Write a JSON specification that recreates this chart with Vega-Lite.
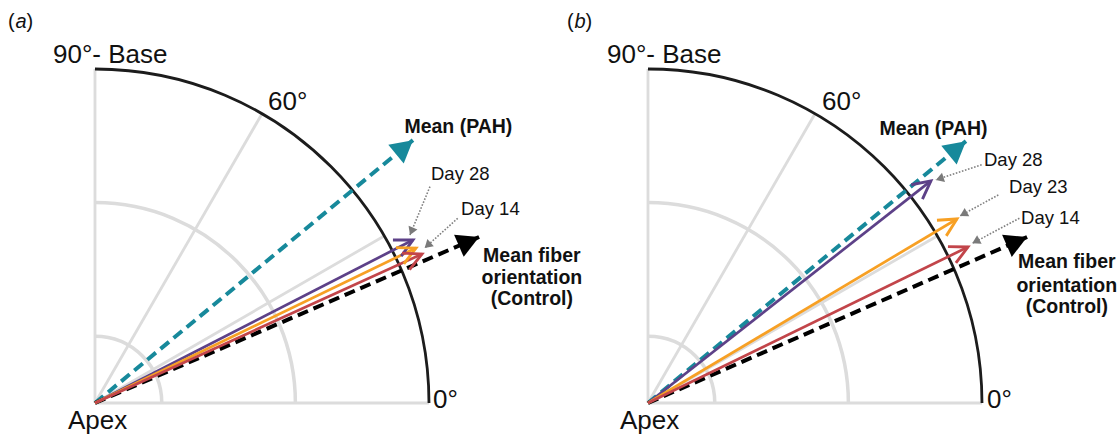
{
  "$schema": "https://vega.github.io/schema/vega-lite/v6.json",
  "padding": 0,
  "background": "white",
  "config": {"view": {"stroke": null}, "font": "Liberation Sans"},
  "data": {"values": [
    {"panel": "a", "kind": "ring", "x0": 0, "y0": 0, "r": 0.2},
    {"panel": "a", "kind": "ring", "x0": 0, "y0": 0, "r": 0.6},
    {"panel": "a", "kind": "rim", "x0": 0, "y0": 0, "r": 1.0},
    {"panel": "a", "kind": "spoke", "x0": 0, "y0": 0, "x": 1.0, "y": 0.0},
    {"panel": "a", "kind": "spoke", "x0": 0, "y0": 0, "x": 0.866, "y": 0.5},
    {"panel": "a", "kind": "spoke", "x0": 0, "y0": 0, "x": 0.5, "y": 0.866},
    {"panel": "a", "kind": "spoke", "x0": 0, "y0": 0, "x": 0.0, "y": 1.0},
    {"panel": "a", "kind": "arrow", "series": "pah", "x0": 0, "y0": 0, "x": 0.952, "y": 0.787, "deg": 39.6},
    {"panel": "a", "kind": "arrow", "series": "control", "x0": 0, "y0": 0, "x": 1.15, "y": 0.497, "deg": 23.4},
    {"panel": "a", "kind": "arrow", "series": "d28", "x0": 0, "y0": 0, "x": 0.952, "y": 0.488, "deg": 27.1},
    {"panel": "a", "kind": "arrow", "series": "d23", "x0": 0, "y0": 0, "x": 0.961, "y": 0.464, "deg": 25.8},
    {"panel": "a", "kind": "arrow", "series": "d14", "x0": 0, "y0": 0, "x": 0.979, "y": 0.446, "deg": 24.5},
    {"panel": "a", "kind": "leader", "x0": 1.003, "y0": 0.648, "x": 0.943, "y": 0.503, "deg": -112.5},
    {"panel": "a", "kind": "leader", "x0": 1.086, "y0": 0.553, "x": 0.987, "y": 0.464, "deg": -138},
    {"panel": "a", "kind": "axis", "label": "90°- Base", "x": -0.1257, "y": 1.018},
    {"panel": "a", "kind": "axis", "label": "60°", "x": 0.518, "y": 0.877},
    {"panel": "a", "kind": "axis", "label": "0°", "x": 1.012, "y": -0.015},
    {"panel": "a", "kind": "axis", "label": "Apex", "x": -0.081, "y": -0.078},
    {"panel": "a", "kind": "day", "label": "Day 28", "x": 1.006, "y": 0.668},
    {"panel": "a", "kind": "day", "label": "Day 14", "x": 1.096, "y": 0.563},
    {"panel": "a", "kind": "bold", "label": "Mean (PAH)", "x": 1.088, "y": 0.808},
    {"panel": "a", "kind": "bold", "label": "Mean fiber", "x": 1.308, "y": 0.422},
    {"panel": "a", "kind": "bold", "label": "orientation", "x": 1.308, "y": 0.356},
    {"panel": "a", "kind": "bold", "label": "(Control)", "x": 1.308, "y": 0.293},
    {"panel": "a", "kind": "tag", "label": "(", "x": -0.2605, "y": 1.1228},
    {"panel": "a", "kind": "tagi", "label": "a", "x": -0.238, "y": 1.1228},
    {"panel": "a", "kind": "tag", "label": ")", "x": -0.2051, "y": 1.1228},

    {"panel": "b", "kind": "ring", "x0": 0, "y0": 0, "r": 0.2},
    {"panel": "b", "kind": "ring", "x0": 0, "y0": 0, "r": 0.6},
    {"panel": "b", "kind": "rim", "x0": 0, "y0": 0, "r": 1.0},
    {"panel": "b", "kind": "spoke", "x0": 0, "y0": 0, "x": 1.0, "y": 0.0},
    {"panel": "b", "kind": "spoke", "x0": 0, "y0": 0, "x": 0.866, "y": 0.5},
    {"panel": "b", "kind": "spoke", "x0": 0, "y0": 0, "x": 0.5, "y": 0.866},
    {"panel": "b", "kind": "spoke", "x0": 0, "y0": 0, "x": 0.0, "y": 1.0},
    {"panel": "b", "kind": "arrow", "series": "pah", "x0": 0, "y0": 0, "x": 0.952, "y": 0.784, "deg": 39.5},
    {"panel": "b", "kind": "arrow", "series": "control", "x0": 0, "y0": 0, "x": 1.135, "y": 0.497, "deg": 23.6},
    {"panel": "b", "kind": "arrow", "series": "d28", "x0": 0, "y0": 0, "x": 0.847, "y": 0.665, "deg": 38.1},
    {"panel": "b", "kind": "arrow", "series": "d23", "x0": 0, "y0": 0, "x": 0.925, "y": 0.551, "deg": 30.8},
    {"panel": "b", "kind": "arrow", "series": "d14", "x0": 0, "y0": 0, "x": 0.958, "y": 0.467, "deg": 26.0},
    {"panel": "b", "kind": "leader", "x0": 0.999, "y0": 0.713, "x": 0.862, "y": 0.668, "deg": -161.8},
    {"panel": "b", "kind": "leader", "x0": 1.049, "y0": 0.623, "x": 0.934, "y": 0.56, "deg": -151.3},
    {"panel": "b", "kind": "leader", "x0": 1.112, "y0": 0.553, "x": 0.971, "y": 0.478, "deg": -152},
    {"panel": "b", "kind": "axis", "label": "90°- Base", "x": -0.1228, "y": 1.018},
    {"panel": "b", "kind": "axis", "label": "60°", "x": 0.521, "y": 0.877},
    {"panel": "b", "kind": "axis", "label": "0°", "x": 1.015, "y": -0.015},
    {"panel": "b", "kind": "axis", "label": "Apex", "x": -0.084, "y": -0.078},
    {"panel": "b", "kind": "day", "label": "Day 28", "x": 1.006, "y": 0.71},
    {"panel": "b", "kind": "day", "label": "Day 23", "x": 1.081, "y": 0.629},
    {"panel": "b", "kind": "day", "label": "Day 14", "x": 1.117, "y": 0.536},
    {"panel": "b", "kind": "bold", "label": "Mean (PAH)", "x": 0.855, "y": 0.802},
    {"panel": "b", "kind": "bold", "label": "Mean fiber", "x": 1.254, "y": 0.404},
    {"panel": "b", "kind": "bold", "label": "orientation", "x": 1.254, "y": 0.332},
    {"panel": "b", "kind": "bold", "label": "(Control)", "x": 1.254, "y": 0.269},
    {"panel": "b", "kind": "tag", "label": "(", "x": -0.2425, "y": 1.1228},
    {"panel": "b", "kind": "tagi", "label": "b", "x": -0.2201, "y": 1.1228},
    {"panel": "b", "kind": "tag", "label": ")", "x": -0.1871, "y": 1.1228}
  ]},
  "facet": {"column": {"field": "panel", "type": "nominal", "header": {"title": null, "labels": false}}},
  "spacing": 0,
  "bounds": "flush",
  "spec": {
    "width": 553,
    "height": 436,
    "layer": [
      {
        "transform": [{"filter": {"field": "kind", "equal": "ring"}}],
        "mark": {"type": "point", "shape": "M0,-1A1,1,0,0,1,1,0", "filled": false, "opacity": 1, "stroke": "#dcdcdc", "strokeWidth": 3.5},
        "encoding": {
          "x": {"field": "x0", "type": "quantitative", "scale": {"domain": [-0.2844, 1.3713], "nice": false, "zero": false}, "axis": null},
          "y": {"field": "y0", "type": "quantitative", "scale": {"domain": [-0.0988, 1.2066], "nice": false, "zero": false}, "axis": null},
          "size": {"field": "r", "type": "quantitative", "scale": {"type": "pow", "exponent": 2, "domain": [0, 1], "range": [0, 446224]}, "legend": null}
        }
      },
      {
        "transform": [{"filter": {"field": "kind", "equal": "spoke"}}],
        "mark": {"type": "rule", "stroke": "#dcdcdc", "strokeWidth": 2.8},
        "encoding": {
          "x": {"field": "x0", "type": "quantitative", "scale": {"domain": [-0.2844, 1.3713], "nice": false, "zero": false}, "axis": null},
          "y": {"field": "y0", "type": "quantitative", "scale": {"domain": [-0.0988, 1.2066], "nice": false, "zero": false}, "axis": null},
          "x2": {"field": "x"},
          "y2": {"field": "y"}
        }
      },
      {
        "transform": [{"filter": {"field": "kind", "equal": "rim"}}],
        "mark": {"type": "point", "shape": "M0,-1A1,1,0,0,1,1,0", "filled": false, "opacity": 1, "stroke": "#1c1c1c", "strokeWidth": 2.8},
        "encoding": {
          "x": {"field": "x0", "type": "quantitative", "scale": {"domain": [-0.2844, 1.3713], "nice": false, "zero": false}, "axis": null},
          "y": {"field": "y0", "type": "quantitative", "scale": {"domain": [-0.0988, 1.2066], "nice": false, "zero": false}, "axis": null},
          "size": {"field": "r", "type": "quantitative", "scale": {"type": "pow", "exponent": 2, "domain": [0, 1], "range": [0, 446224]}, "legend": null}
        }
      },
      {
        "transform": [{"filter": {"field": "series", "oneOf": ["pah", "control"]}}],
        "mark": {"type": "rule", "strokeWidth": 4, "strokeDash": [11, 6]},
        "encoding": {
          "x": {"field": "x0", "type": "quantitative", "scale": {"domain": [-0.2844, 1.3713], "nice": false, "zero": false}, "axis": null},
          "y": {"field": "y0", "type": "quantitative", "scale": {"domain": [-0.0988, 1.2066], "nice": false, "zero": false}, "axis": null},
          "x2": {"field": "x"},
          "y2": {"field": "y"},
          "color": {"field": "series", "type": "nominal", "scale": {"domain": ["pah", "control", "d28", "d23", "d14"], "range": ["#17899b", "#000000", "#5d4188", "#f7a024", "#c2454a"]}, "legend": null}
        }
      },
      {
        "transform": [{"filter": {"field": "series", "oneOf": ["d14", "d23", "d28"]}}],
        "mark": {"type": "rule", "strokeWidth": 2.7},
        "encoding": {
          "x": {"field": "x0", "type": "quantitative", "scale": {"domain": [-0.2844, 1.3713], "nice": false, "zero": false}, "axis": null},
          "y": {"field": "y0", "type": "quantitative", "scale": {"domain": [-0.0988, 1.2066], "nice": false, "zero": false}, "axis": null},
          "x2": {"field": "x"},
          "y2": {"field": "y"},
          "color": {"field": "series", "type": "nominal", "scale": {"domain": ["pah", "control", "d28", "d23", "d14"], "range": ["#17899b", "#000000", "#5d4188", "#f7a024", "#c2454a"]}, "legend": null}
        }
      },
      {
        "transform": [{"filter": {"field": "series", "oneOf": ["pah", "control"]}}],
        "mark": {"type": "point", "shape": "M0,0L-0.55,1L0.55,1Z", "filled": true, "size": 1936, "opacity": 1, "strokeWidth": 0},
        "encoding": {
          "x": {"field": "x", "type": "quantitative", "scale": {"domain": [-0.2844, 1.3713], "nice": false, "zero": false}, "axis": null},
          "y": {"field": "y", "type": "quantitative", "scale": {"domain": [-0.0988, 1.2066], "nice": false, "zero": false}, "axis": null},
          "angle": {"field": "deg", "type": "quantitative", "scale": {"domain": [0, 90], "range": [90, 0]}},
          "color": {"field": "series", "type": "nominal", "scale": {"domain": ["pah", "control", "d28", "d23", "d14"], "range": ["#17899b", "#000000", "#5d4188", "#f7a024", "#c2454a"]}, "legend": null}
        }
      },
      {
        "transform": [{"filter": {"field": "series", "oneOf": ["d14", "d23", "d28"]}}],
        "mark": {"type": "point", "shape": "M-0.454,0.891L0,0L0.454,0.891", "filled": false, "size": 1600, "opacity": 1, "strokeWidth": 2.9, "strokeJoin": "miter"},
        "encoding": {
          "x": {"field": "x", "type": "quantitative", "scale": {"domain": [-0.2844, 1.3713], "nice": false, "zero": false}, "axis": null},
          "y": {"field": "y", "type": "quantitative", "scale": {"domain": [-0.0988, 1.2066], "nice": false, "zero": false}, "axis": null},
          "angle": {"field": "deg", "type": "quantitative", "scale": {"domain": [0, 90], "range": [90, 0]}},
          "color": {"field": "series", "type": "nominal", "scale": {"domain": ["pah", "control", "d28", "d23", "d14"], "range": ["#17899b", "#000000", "#5d4188", "#f7a024", "#c2454a"]}, "legend": null}
        }
      },
      {
        "transform": [{"filter": {"field": "kind", "equal": "leader"}}],
        "mark": {"type": "rule", "stroke": "#808080", "strokeWidth": 1.6, "strokeDash": [1.6, 1.6]},
        "encoding": {
          "x": {"field": "x0", "type": "quantitative", "scale": {"domain": [-0.2844, 1.3713], "nice": false, "zero": false}, "axis": null},
          "y": {"field": "y0", "type": "quantitative", "scale": {"domain": [-0.0988, 1.2066], "nice": false, "zero": false}, "axis": null},
          "x2": {"field": "x"},
          "y2": {"field": "y"}
        }
      },
      {
        "transform": [{"filter": {"field": "kind", "equal": "leader"}}],
        "mark": {"type": "point", "shape": "M0,0L-0.6,1L0.6,1Z", "filled": true, "size": 256, "opacity": 1, "color": "#7a7a7a", "strokeWidth": 0},
        "encoding": {
          "x": {"field": "x", "type": "quantitative", "scale": {"domain": [-0.2844, 1.3713], "nice": false, "zero": false}, "axis": null},
          "y": {"field": "y", "type": "quantitative", "scale": {"domain": [-0.0988, 1.2066], "nice": false, "zero": false}, "axis": null},
          "angle": {"field": "deg", "type": "quantitative", "scale": {"domain": [0, 90], "range": [90, 0]}}
        }
      },
      {
        "transform": [{"filter": {"field": "kind", "equal": "axis"}}],
        "mark": {"type": "text", "align": "left", "baseline": "alphabetic", "fontSize": 26, "color": "#111111"},
        "encoding": {
          "x": {"field": "x", "type": "quantitative", "scale": {"domain": [-0.2844, 1.3713], "nice": false, "zero": false}, "axis": null},
          "y": {"field": "y", "type": "quantitative", "scale": {"domain": [-0.0988, 1.2066], "nice": false, "zero": false}, "axis": null},
          "text": {"field": "label", "type": "nominal"}
        }
      },
      {
        "transform": [{"filter": {"field": "kind", "equal": "day"}}],
        "mark": {"type": "text", "align": "left", "baseline": "alphabetic", "fontSize": 18.5, "color": "#111111"},
        "encoding": {
          "x": {"field": "x", "type": "quantitative", "scale": {"domain": [-0.2844, 1.3713], "nice": false, "zero": false}, "axis": null},
          "y": {"field": "y", "type": "quantitative", "scale": {"domain": [-0.0988, 1.2066], "nice": false, "zero": false}, "axis": null},
          "text": {"field": "label", "type": "nominal"}
        }
      },
      {
        "transform": [{"filter": {"field": "kind", "equal": "bold"}}],
        "mark": {"type": "text", "align": "center", "baseline": "alphabetic", "fontSize": 19.5, "fontWeight": "bold", "color": "#111111"},
        "encoding": {
          "x": {"field": "x", "type": "quantitative", "scale": {"domain": [-0.2844, 1.3713], "nice": false, "zero": false}, "axis": null},
          "y": {"field": "y", "type": "quantitative", "scale": {"domain": [-0.0988, 1.2066], "nice": false, "zero": false}, "axis": null},
          "text": {"field": "label", "type": "nominal"}
        }
      },
      {
        "transform": [{"filter": {"field": "kind", "equal": "tag"}}],
        "mark": {"type": "text", "align": "left", "baseline": "alphabetic", "fontSize": 20, "color": "#111111"},
        "encoding": {
          "x": {"field": "x", "type": "quantitative", "scale": {"domain": [-0.2844, 1.3713], "nice": false, "zero": false}, "axis": null},
          "y": {"field": "y", "type": "quantitative", "scale": {"domain": [-0.0988, 1.2066], "nice": false, "zero": false}, "axis": null},
          "text": {"field": "label", "type": "nominal"}
        }
      },
      {
        "transform": [{"filter": {"field": "kind", "equal": "tagi"}}],
        "mark": {"type": "text", "align": "left", "baseline": "alphabetic", "fontSize": 20, "fontStyle": "italic", "color": "#111111"},
        "encoding": {
          "x": {"field": "x", "type": "quantitative", "scale": {"domain": [-0.2844, 1.3713], "nice": false, "zero": false}, "axis": null},
          "y": {"field": "y", "type": "quantitative", "scale": {"domain": [-0.0988, 1.2066], "nice": false, "zero": false}, "axis": null},
          "text": {"field": "label", "type": "nominal"}
        }
      }
    ]
  }
}
